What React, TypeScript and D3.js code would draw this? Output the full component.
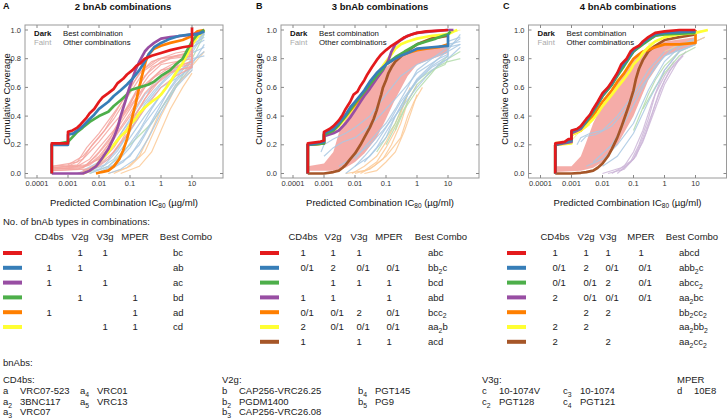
import React from "react";
import * as d3 from "d3";

type Pt = [number, number];

const FONT = "'Liberation Sans', Arial, Helvetica, sans-serif";
const DARK: Record<string, string> = {
  red: "#e41a1c", blue: "#377eb8", green: "#4daf4a", purple: "#984ea3",
  orange: "#ff7f00", yellow: "#ffff33", brown: "#a65628",
};
const FAINT: Record<string, string> = {
  red: "#f4a39e", blue: "#a9c8e3", green: "#b3dcab", purple: "#cdb6d8",
  orange: "#fcc995", yellow: "#f9f49c", brown: "#d8b8a0",
};

// ---------------- axis / text data ----------------
const xTicks = [0.0001, 0.001, 0.01, 0.1, 1, 10];
const xTickLabels = ["0.0001", "0.001", "0.01", "0.1", "1", "10"];
const yTicks = [0, 0.2, 0.4, 0.6, 0.8, 1.0];
const panelLetters = ["A", "B", "C"];
const panelTitles = ["2 bnAb combinations", "3 bnAb combinations", "4 bnAb combinations"];
const tableHeaders = ["CD4bs", "V2g", "V3g", "MPER", "Best Combo"];

// ---------------- table data ----------------
const rowColors2 = ["red", "blue", "purple", "green", "orange", "yellow"];
const counts2 = [["", "1", "1", ""], ["1", "1", "", ""], ["1", "", "1", ""], ["", "1", "", "1"], ["1", "", "", "1"], ["", "", "1", "1"]];
const best2 = ["bc", "ab", "ac", "bd", "ad", "cd"];
const rowColors3 = ["red", "blue", "green", "purple", "orange", "yellow", "brown"];
const counts3 = [["1", "1", "1", ""], ["0/1", "2", "0/1", "0/1"], ["", "1", "1", "1"], ["1", "1", "", "1"], ["0/1", "0/1", "2", "0/1"], ["2", "0/1", "0/1", "0/1"], ["1", "", "1", "1"]];
const best3 = ["abc", "bb2c", "bcd", "abd", "bcc2", "aa2b", "acd"];
const rowColors4 = ["red", "blue", "green", "purple", "orange", "yellow", "brown"];
const counts4 = [["1", "1", "1", "1"], ["0/1", "2", "0/1", "0/1"], ["0/1", "0/1", "2", "0/1"], ["2", "0/1", "0/1", "0/1"], ["", "2", "2", ""], ["2", "2", "", ""], ["2", "", "2", ""]];
const best4 = ["abcd", "abb2c", "abcc2", "aa2bc", "bb2cc2", "aa2bb2", "aa2cc2"];

// ---------------- bnAb list ----------------
const cd4bsAbs = [["a", "VRC07-523"], ["a2", "3BNC117"], ["a3", "VRC07"], ["a4", "VRC01"], ["a5", "VRC13"]];
const v2gAbs = [["b", "CAP256-VRC26.25"], ["b2", "PGDM1400"], ["b3", "CAP256-VRC26.08"], ["b4", "PGT145"], ["b5", "PG9"]];
const v3gAbs = [["c", "10-1074V"], ["c2", "PGT128"], ["c3", "10-1074"], ["c4", "PGT121"]];
const mperAbs = [["d", "10E8"]];

// ---------------- Panel A dark curves ----------------
const A_red: Pt[] = [[0.0003,0],[0.0003,0.21],[0.001,0.21],[0.001,0.29],[0.0014,0.3],[0.002,0.32],[0.0025,0.34],[0.003,0.36],[0.004,0.39],[0.005,0.42],[0.007,0.45],[0.01,0.5],[0.013,0.53],[0.02,0.56],[0.03,0.59],[0.04,0.63],[0.06,0.66],[0.08,0.69],[0.12,0.72],[0.16,0.75],[0.22,0.77],[0.3,0.8],[0.5,0.82],[1,0.84],[2,0.86],[5,0.88],[10,0.89],[10,1.02]];
const A_blue: Pt[] = [[0.0003,0],[0.0003,0.2],[0.001,0.2],[0.001,0.27],[0.0015,0.28],[0.002,0.3],[0.003,0.33],[0.005,0.38],[0.007,0.41],[0.01,0.45],[0.02,0.5],[0.03,0.54],[0.05,0.58],[0.08,0.62],[0.12,0.66],[0.2,0.72],[0.3,0.78],[0.4,0.83],[0.6,0.88],[1,0.91],[2,0.94],[4,0.96],[10,0.97],[15,0.97],[25,0.99]];
const A_purple: Pt[] = [[0.0003,0],[0.003,0],[0.005,0.02],[0.008,0.05],[0.012,0.1],[0.02,0.17],[0.03,0.25],[0.04,0.32],[0.05,0.4],[0.07,0.5],[0.09,0.58],[0.12,0.66],[0.15,0.72],[0.2,0.78],[0.3,0.85],[0.4,0.88],[0.6,0.91],[1,0.94],[2,0.95],[5,0.96],[10,0.97],[20,0.98]];
const A_green: Pt[] = [[0.0003,0],[0.0003,0.2],[0.001,0.22],[0.002,0.29],[0.003,0.32],[0.005,0.36],[0.01,0.4],[0.02,0.43],[0.03,0.47],[0.05,0.51],[0.08,0.55],[0.1,0.58],[0.2,0.6],[0.4,0.62],[0.6,0.64],[1,0.68],[2,0.72],[3,0.76],[5,0.8],[7,0.86],[10,0.92],[15,0.97],[25,1.0]];
const A_orange: Pt[] = [[0.008,0],[0.012,0.01],[0.02,0.02],[0.03,0.05],[0.045,0.1],[0.06,0.16],[0.08,0.24],[0.1,0.32],[0.12,0.4],[0.15,0.48],[0.18,0.56],[0.22,0.64],[0.27,0.72],[0.32,0.78],[0.4,0.83],[0.6,0.87],[1,0.89],[2,0.91],[5,0.93],[8,0.95],[10,0.96],[15,0.99],[25,1.0]];
const A_yellow: Pt[] = [[0.003,0],[0.005,0.02],[0.008,0.05],[0.01,0.08],[0.02,0.15],[0.03,0.2],[0.05,0.26],[0.08,0.3],[0.1,0.34],[0.15,0.38],[0.2,0.42],[0.3,0.46],[0.5,0.5],[0.8,0.53],[1,0.55],[1.5,0.6],[2,0.64],[3,0.7],[5,0.77],[7,0.83],[10,0.9],[15,0.95],[25,1.0]];

// Panel A faint curves
const A_fRed: Pt[][] = [
  [[0.0003,0.04],[0.002,0.05],[0.005,0.1],[0.01,0.18],[0.03,0.3],[0.1,0.5],[0.3,0.68],[1,0.78],[3,0.82],[10,0.85],[10,0.95]],
  [[0.0003,0.03],[0.003,0.04],[0.006,0.08],[0.01,0.12],[0.03,0.25],[0.1,0.42],[0.3,0.6],[1,0.72],[5,0.8],[10,0.82],[10,0.9]],
  [[0.0003,0.02],[0.004,0.03],[0.01,0.07],[0.03,0.18],[0.1,0.35],[0.3,0.52],[1,0.66],[3,0.74],[10,0.78],[10,0.86]],
  [[0.0003,0.05],[0.001,0.06],[0.003,0.12],[0.01,0.25],[0.03,0.38],[0.1,0.56],[0.3,0.72],[1,0.8],[10,0.83]],
  [[0.002,0.0],[0.005,0.03],[0.01,0.06],[0.03,0.15],[0.1,0.3],[0.3,0.45],[1,0.6],[3,0.68],[10,0.74],[10,0.82]],
  [[0.0003,0.04],[0.002,0.06],[0.005,0.15],[0.01,0.22],[0.03,0.35],[0.1,0.48],[0.2,0.62],[0.5,0.74],[2,0.8],[10,0.82]],
  [[0.0003,0.03],[0.003,0.05],[0.01,0.1],[0.02,0.2],[0.05,0.35],[0.1,0.45],[0.3,0.62],[1,0.72],[10,0.76],[10,0.84]],
  [[0.003,0.02],[0.01,0.05],[0.02,0.1],[0.05,0.22],[0.2,0.45],[0.5,0.6],[2,0.7],[10,0.75]],
  [[0.0003,0.05],[0.002,0.08],[0.004,0.18],[0.01,0.28],[0.03,0.42],[0.08,0.55],[0.2,0.7],[0.5,0.78],[3,0.84],[10,0.86]],
  [[0.0003,0.03],[0.003,0.04],[0.008,0.12],[0.02,0.22],[0.05,0.38],[0.15,0.55],[0.4,0.68],[1,0.76],[10,0.8],[10,0.88]],
  [[0.0003,0.02],[0.002,0.03],[0.005,0.06],[0.015,0.14],[0.04,0.28],[0.1,0.4],[0.3,0.56],[1,0.68],[3,0.72],[10,0.74]],
  [[0.001,0.05],[0.003,0.1],[0.006,0.2],[0.015,0.3],[0.04,0.45],[0.1,0.6],[0.25,0.72],[0.8,0.8],[10,0.84]],
  [[0.0003,0.04],[0.004,0.06],[0.01,0.15],[0.025,0.26],[0.06,0.4],[0.15,0.52],[0.5,0.66],[2,0.74],[10,0.78],[10,0.85]],
];
const A_fBlue: Pt[][] = [
  [[0.003,0.0],[0.01,0.03],[0.03,0.1],[0.1,0.25],[0.3,0.4],[1,0.55],[3,0.68],[10,0.8],[10,0.9],[25,0.95]],
  [[0.005,0.0],[0.02,0.05],[0.05,0.12],[0.2,0.3],[0.5,0.45],[1,0.55],[3,0.7],[10,0.78],[10,0.88],[25,0.93]],
  [[0.002,0.0],[0.008,0.05],[0.02,0.15],[0.06,0.3],[0.2,0.45],[0.6,0.58],[2,0.7],[10,0.82],[10,0.92],[25,0.97]],
  [[0.01,0.0],[0.03,0.05],[0.1,0.12],[0.3,0.28],[1,0.48],[2,0.6],[5,0.72],[10,0.78],[25,0.85]],
  [[0.005,0.02],[0.02,0.1],[0.05,0.2],[0.1,0.3],[0.3,0.48],[1,0.62],[3,0.72],[10,0.84],[25,0.98]],
  [[0.02,0.0],[0.05,0.03],[0.15,0.1],[0.4,0.25],[1,0.42],[3,0.6],[10,0.72],[10,0.8],[25,0.82]],
  [[0.003,0.02],[0.01,0.08],[0.03,0.2],[0.1,0.38],[0.3,0.55],[1,0.66],[3,0.76],[10,0.86],[25,0.99]],
  [[0.008,0.0],[0.03,0.06],[0.1,0.18],[0.3,0.35],[1,0.5],[3,0.64],[10,0.76],[25,0.9]],
  [[0.02,0.02],[0.06,0.08],[0.2,0.2],[0.5,0.35],[1,0.45],[3,0.62],[10,0.74],[10,0.84],[25,0.88]],
  [[0.004,0.01],[0.015,0.06],[0.04,0.16],[0.12,0.32],[0.4,0.5],[1,0.6],[3,0.66],[10,0.74],[10,0.94],[25,1.0]],
];
const A_fOrange: Pt[][] = [
  [[0.03,0.0],[0.1,0.05],[0.3,0.15],[1,0.4],[3,0.6],[10,0.75],[25,0.85]],
  [[0.05,0.0],[0.2,0.05],[0.5,0.15],[1,0.3],[2,0.45],[5,0.6],[10,0.7]],
  [[0.02,0.0],[0.08,0.04],[0.2,0.12],[0.5,0.3],[1,0.45],[3,0.62],[10,0.72]],
];
const A_fGreen: Pt[][] = [
  [[0.005,0.0],[0.02,0.05],[0.1,0.2],[0.5,0.35],[1,0.45],[3,0.6],[10,0.8],[25,0.97]],
];

// ---------------- Panel B dark curves ----------------
const B_red: Pt[] = [[0.0003,0],[0.0003,0.21],[0.0007,0.22],[0.001,0.23],[0.001,0.29],[0.0015,0.31],[0.002,0.33],[0.003,0.37],[0.004,0.41],[0.005,0.45],[0.007,0.5],[0.009,0.55],[0.012,0.57],[0.015,0.61],[0.02,0.65],[0.025,0.69],[0.035,0.74],[0.05,0.79],[0.07,0.83],[0.1,0.86],[0.15,0.89],[0.25,0.92],[0.4,0.95],[0.7,0.97],[1,0.98],[2,0.99],[10,1.0]];
const B_blue: Pt[] = [[0.0003,0],[0.0003,0.2],[0.001,0.22],[0.001,0.28],[0.002,0.31],[0.003,0.35],[0.005,0.41],[0.007,0.46],[0.01,0.5],[0.02,0.58],[0.03,0.64],[0.05,0.7],[0.07,0.73],[0.1,0.76],[0.2,0.8],[0.3,0.82],[0.5,0.84],[1,0.87],[3,0.88],[10,0.89],[10,0.97]];
const B_green: Pt[] = [[0.0003,0],[0.0003,0.2],[0.001,0.21],[0.001,0.27],[0.002,0.3],[0.003,0.34],[0.005,0.4],[0.01,0.49],[0.02,0.57],[0.03,0.62],[0.05,0.68],[0.08,0.73],[0.1,0.76],[0.2,0.81],[0.4,0.85],[0.7,0.88],[1,0.9],[2,0.92],[4,0.94],[7,0.96],[10,0.97],[12,0.99]];
const B_purple: Pt[] = [[0.0003,0],[0.0003,0.2],[0.001,0.21],[0.001,0.26],[0.002,0.28],[0.003,0.3],[0.005,0.35],[0.007,0.39],[0.01,0.44],[0.015,0.5],[0.02,0.54],[0.03,0.59],[0.05,0.66],[0.08,0.72],[0.12,0.79],[0.15,0.85],[0.2,0.9],[0.3,0.93],[0.5,0.96],[1,0.98],[3,0.99],[10,1.0],[15,1.0]];
const B_orange: Pt[] = [[0.0003,0],[0.0003,0.2],[0.001,0.21],[0.001,0.27],[0.002,0.3],[0.003,0.34],[0.005,0.4],[0.01,0.48],[0.02,0.56],[0.03,0.61],[0.05,0.67],[0.08,0.73],[0.1,0.76],[0.2,0.8],[0.3,0.82],[0.5,0.84],[1,0.86],[2,0.87],[5,0.88],[10,0.9]];
const B_yellow: Pt[] = [[0.0003,0],[0.0003,0.2],[0.001,0.21],[0.001,0.27],[0.002,0.3],[0.003,0.33],[0.005,0.39],[0.01,0.47],[0.02,0.56],[0.03,0.62],[0.05,0.69],[0.08,0.75],[0.1,0.78],[0.15,0.83],[0.2,0.87],[0.3,0.9],[0.5,0.92],[1,0.94],[3,0.96],[10,0.97],[15,0.99],[20,1.0]];
const B_brown: Pt[] = [[0.0003,0],[0.001,0],[0.002,0.01],[0.003,0.02],[0.004,0.04],[0.005,0.06],[0.007,0.1],[0.01,0.14],[0.015,0.2],[0.02,0.25],[0.03,0.32],[0.04,0.38],[0.05,0.44],[0.06,0.5],[0.07,0.55],[0.08,0.6],[0.1,0.65],[0.12,0.7],[0.15,0.74],[0.2,0.78],[0.4,0.84],[1,0.9],[3,0.94],[10,0.96]];

// Panel B faint
const B_bandRedUpper: Pt[] = [[0.0003,0.05],[0.001,0.07],[0.002,0.15],[0.003,0.28],[0.005,0.38],[0.01,0.48],[0.02,0.56],[0.05,0.66],[0.1,0.74],[0.3,0.82],[1,0.86],[10,0.9]];
const B_bandRedLower: Pt[] = [[0.0003,0.02],[0.002,0.02],[0.005,0.04],[0.01,0.08],[0.02,0.14],[0.05,0.25],[0.1,0.38],[0.2,0.52],[0.5,0.68],[1,0.76],[10,0.84]];
const B_fBlue: Pt[][] = [
  [[0.0008,0.15],[0.001,0.2],[0.002,0.24],[0.005,0.28],[0.01,0.32],[0.03,0.4],[0.1,0.55],[0.3,0.68],[1,0.76],[10,0.85],[25,0.9]],
  [[0.001,0.12],[0.002,0.18],[0.004,0.22],[0.01,0.25],[0.02,0.3],[0.05,0.38],[0.2,0.52],[0.5,0.62],[1,0.7],[5,0.8],[10,0.83],[10,0.9],[25,0.92]],
  [[0.005,0.0],[0.01,0.05],[0.02,0.12],[0.05,0.22],[0.1,0.32],[0.3,0.5],[1,0.65],[3,0.75],[10,0.82],[10,0.92],[25,0.95]],
  [[0.01,0.05],[0.03,0.12],[0.1,0.25],[0.2,0.4],[0.5,0.55],[1,0.66],[3,0.76],[10,0.86],[25,0.97]],
  [[0.01,0.1],[0.02,0.18],[0.05,0.28],[0.1,0.35],[0.2,0.45],[0.5,0.6],[1,0.72],[3,0.8],[10,0.88],[25,0.94]],
  [[0.003,0.05],[0.01,0.12],[0.03,0.2],[0.08,0.3],[0.3,0.45],[1,0.6],[3,0.72],[10,0.8],[10,0.88],[25,0.9]],
  [[0.02,0.08],[0.05,0.18],[0.15,0.35],[0.4,0.52],[1,0.64],[3,0.74],[10,0.8],[25,0.88]],
];
const B_fGreen: Pt[][] = [
  [[0.1,0.2],[0.3,0.4],[0.5,0.5],[1,0.62],[2,0.68],[5,0.75],[10,0.78],[25,0.8]],
  [[0.05,0.15],[0.2,0.35],[0.5,0.55],[1,0.65],[3,0.72],[8,0.76],[10,0.8],[25,0.85]],
  [[0.2,0.3],[0.4,0.45],[1,0.58],[3,0.7],[5,0.76],[10,0.82]],
];
const B_fOrange: Pt[][] = [
  [[0.005,0.0],[0.02,0.02],[0.05,0.08],[0.1,0.18],[0.2,0.3],[0.3,0.42],[0.5,0.55]],
  [[0.01,0.0],[0.03,0.03],[0.08,0.1],[0.15,0.2],[0.3,0.35],[0.5,0.5],[1,0.62]],
  [[0.02,0.0],[0.05,0.02],[0.1,0.08],[0.2,0.15],[0.4,0.3],[0.7,0.45],[1,0.55]],
  [[0.008,0.0],[0.02,0.05],[0.05,0.12],[0.1,0.22],[0.2,0.35],[0.4,0.5],[0.6,0.6]],
  [[0.015,0.0],[0.04,0.05],[0.1,0.12],[0.3,0.25],[0.5,0.4],[0.8,0.5],[1.5,0.6]],
];
const B_fYellow: Pt[][] = [
  [[1,0.9],[3,0.95],[10,0.98],[25,1.0]],
];

// ---------------- Panel C dark curves ----------------
const C_red: Pt[] = [[0.0003,0],[0.0003,0.21],[0.0006,0.22],[0.0008,0.24],[0.001,0.24],[0.001,0.3],[0.0015,0.31],[0.002,0.33],[0.003,0.38],[0.004,0.41],[0.005,0.45],[0.007,0.5],[0.01,0.56],[0.015,0.6],[0.02,0.64],[0.03,0.7],[0.04,0.76],[0.06,0.8],[0.08,0.85],[0.1,0.87],[0.15,0.89],[0.2,0.92],[0.3,0.95],[0.5,0.98],[1,0.99],[3,1.0],[10,1.0]];
const C_blue: Pt[] = [[0.0003,0],[0.0003,0.2],[0.001,0.23],[0.001,0.29],[0.002,0.32],[0.003,0.37],[0.005,0.44],[0.007,0.49],[0.01,0.55],[0.02,0.63],[0.03,0.69],[0.04,0.74],[0.06,0.79],[0.1,0.86],[0.2,0.91],[0.3,0.94],[0.5,0.97],[1,0.98],[10,0.99]];
const C_green: Pt[] = [[0.0003,0],[0.0003,0.2],[0.001,0.23],[0.001,0.29],[0.002,0.32],[0.003,0.36],[0.005,0.43],[0.01,0.54],[0.02,0.62],[0.03,0.68],[0.05,0.75],[0.1,0.85],[0.2,0.9],[0.5,0.96],[1,0.97],[10,0.98]];
const C_purple: Pt[] = [[0.0003,0],[0.0003,0.2],[0.001,0.22],[0.001,0.28],[0.002,0.31],[0.003,0.36],[0.005,0.43],[0.01,0.54],[0.02,0.62],[0.03,0.69],[0.05,0.76],[0.1,0.85],[0.2,0.91],[0.5,0.96],[1,0.98],[10,0.99]];
const C_orange: Pt[] = [[0.0003,0],[0.0003,0.2],[0.001,0.22],[0.001,0.27],[0.002,0.3],[0.003,0.34],[0.005,0.4],[0.01,0.5],[0.02,0.58],[0.03,0.64],[0.05,0.7],[0.07,0.75],[0.1,0.8],[0.15,0.83],[0.2,0.85],[0.3,0.86],[0.5,0.88],[1,0.9],[3,0.9],[10,0.91],[10,1.0]];
const C_yellow: Pt[] = [[0.0003,0],[0.0003,0.2],[0.001,0.21],[0.001,0.27],[0.002,0.3],[0.003,0.33],[0.005,0.38],[0.007,0.42],[0.01,0.47],[0.02,0.55],[0.03,0.6],[0.05,0.66],[0.08,0.72],[0.1,0.76],[0.15,0.8],[0.2,0.84],[0.3,0.88],[0.5,0.92],[1,0.95],[3,0.97],[10,0.98],[25,1.0]];
const C_brown: Pt[] = [[0.0003,0],[0.001,0],[0.002,0.005],[0.003,0.01],[0.005,0.02],[0.007,0.04],[0.01,0.07],[0.015,0.12],[0.02,0.17],[0.03,0.25],[0.04,0.32],[0.05,0.38],[0.07,0.47],[0.1,0.58],[0.12,0.66],[0.15,0.73],[0.2,0.79],[0.3,0.85],[0.5,0.89],[1,0.93],[3,0.95],[10,0.97]];

// Panel C faint
const C_bandRedUpper: Pt[] = [[0.0003,0.05],[0.001,0.05],[0.002,0.12],[0.003,0.22],[0.005,0.35],[0.01,0.48],[0.02,0.58],[0.05,0.7],[0.1,0.8],[0.3,0.88],[1,0.92],[10,0.95]];
const C_bandRedLower: Pt[] = [[0.0003,0.01],[0.002,0.02],[0.005,0.04],[0.01,0.08],[0.03,0.2],[0.1,0.4],[0.3,0.65],[1,0.82],[10,0.9]];
const C_fBlue: Pt[][] = [
  [[0.0015,0.2],[0.002,0.25],[0.004,0.28],[0.01,0.3],[0.03,0.4],[0.1,0.55],[0.3,0.72],[1,0.85],[10,0.93]],
  [[0.003,0.05],[0.01,0.1],[0.03,0.2],[0.1,0.35],[0.3,0.58],[1,0.78],[3,0.88],[10,0.92],[20,0.95]],
  [[0.01,0.05],[0.03,0.12],[0.1,0.28],[0.3,0.5],[1,0.72],[3,0.85],[10,0.9]],
  [[0.005,0.08],[0.02,0.2],[0.05,0.35],[0.2,0.6],[0.5,0.75],[2,0.88],[10,0.94]],
  [[0.002,0.22],[0.003,0.26],[0.006,0.27],[0.02,0.33],[0.06,0.45],[0.2,0.62],[1,0.82],[10,0.9]],
];
const C_fPurple: Pt[][] = [
  [[0.02,0.0],[0.05,0.05],[0.1,0.15],[0.2,0.3],[0.4,0.5],[1,0.72],[3,0.85]],
  [[0.03,0.0],[0.08,0.08],[0.15,0.2],[0.3,0.38],[0.5,0.55],[1,0.68],[2,0.78]],
  [[0.01,0.0],[0.04,0.04],[0.1,0.1],[0.2,0.22],[0.5,0.45],[1,0.62],[3,0.8]],
  [[0.015,0.0],[0.05,0.03],[0.12,0.12],[0.25,0.28],[0.5,0.48],[1,0.65],[2,0.76],[5,0.85]],
  [[0.04,0.02],[0.1,0.1],[0.2,0.25],[0.4,0.42],[0.7,0.58],[1.5,0.72],[4,0.82]],
];
const C_fGreen: Pt[][] = [
  [[0.1,0.3],[0.3,0.55],[0.5,0.65],[1,0.75],[3,0.85],[10,0.9]],
  [[0.2,0.45],[0.5,0.6],[1,0.7],[3,0.82],[10,0.88]],
];
const C_fOrange: Pt[][] = [
  [[1,0.85],[3,0.9],[10,0.92],[20,0.95]],
];
const C_fYellow: Pt[][] = [
  [[0.3,0.9],[1,0.95],[5,0.98],[25,1.0]],
  [[0.0003,0.22],[0.001,0.23],[0.002,0.3],[0.004,0.34]],
];

// ---------------- assembly ----------------
type Band = { color: string; upper: Pt[]; lower: Pt[] };
type Faint = { color: string; curves: Pt[][] };
type Dark = { color: string; pts: Pt[] };

const panels: { dark: Dark[]; faint: Faint[]; bands: Band[]; rowColors: string[]; counts: string[][]; best: string[] }[] = [
  {
    dark: [
      { color: "yellow", pts: A_yellow }, { color: "orange", pts: A_orange }, { color: "green", pts: A_green },
      { color: "purple", pts: A_purple }, { color: "blue", pts: A_blue }, { color: "red", pts: A_red },
    ],
    faint: [{ color: "orange", curves: A_fOrange }, { color: "green", curves: A_fGreen }, { color: "blue", curves: A_fBlue }, { color: "red", curves: A_fRed }],
    bands: [],
    rowColors: rowColors2, counts: counts2, best: best2,
  },
  {
    dark: [
      { color: "brown", pts: B_brown }, { color: "yellow", pts: B_yellow }, { color: "orange", pts: B_orange },
      { color: "purple", pts: B_purple }, { color: "green", pts: B_green }, { color: "blue", pts: B_blue }, { color: "red", pts: B_red },
    ],
    faint: [{ color: "orange", curves: B_fOrange }, { color: "green", curves: B_fGreen }, { color: "blue", curves: B_fBlue }, { color: "yellow", curves: B_fYellow }],
    bands: [{ color: "red", upper: B_bandRedUpper, lower: B_bandRedLower }],
    rowColors: rowColors3, counts: counts3, best: best3,
  },
  {
    dark: [
      { color: "brown", pts: C_brown }, { color: "orange", pts: C_orange }, { color: "yellow", pts: C_yellow },
      { color: "purple", pts: C_purple }, { color: "green", pts: C_green }, { color: "blue", pts: C_blue }, { color: "red", pts: C_red },
    ],
    faint: [{ color: "purple", curves: C_fPurple }, { color: "green", curves: C_fGreen }, { color: "blue", curves: C_fBlue }, { color: "orange", curves: C_fOrange }, { color: "yellow", curves: C_fYellow }],
    bands: [{ color: "red", upper: C_bandRedUpper, lower: C_bandRedLower }],
    rowColors: rowColors4, counts: counts4, best: best4,
  },
];

// ---------------- layout ----------------
const frameLeft = [25, 281, 528.5];
const frameW = 198;
const frameTop = 25;
const frameBottom = 178;
const titleCenter = [123, 380, 628];
const letterX = [3, 256, 503];
const yLabelX = [9.5, 261.5, 508];
const headerCenters = [[49, 80, 105, 135, 186], [303, 333, 359, 389, 441], [555, 586, 608, 641, 692]];
const swatchX = [3, 260, 507];
const rowY0 = 253;
const rowStep = 14.8;

function SubText(props: { x: number; y: number; text: string; size: number; fill?: string; anchor?: string }) {
  const { x, y, text, size, fill = "#222", anchor = "start" } = props;
  const parts = text.match(/\d+|\D+/g) || [];
  const shift = size * 0.3;
  let cur = 0;
  return (
    <text x={x} y={y} fontSize={size} fill={fill} textAnchor={anchor as any}>
      {parts.map((p, i) => {
        const isSub = /^\d+$/.test(p);
        const target = isSub ? shift : 0;
        const dy = target - cur;
        cur = target;
        return (
          <tspan key={i} dy={dy} fontSize={isSub ? size * 0.72 : size}>{p}</tspan>
        );
      })}
    </text>
  );
}

function Panel({ idx }: { idx: number }) {
  const p = panels[idx];
  const L = frameLeft[idx];
  const xs = d3.scaleLog().domain([0.0001, 10]).range([L + 12, L + 167]);
  const ys = d3.scaleLinear().domain([0, 1]).range([173.5, 30]);
  const line = d3.line<Pt>().x((d) => xs(d[0])).y((d) => ys(d[1]));
  const cx = L + frameW / 2;
  return (
    <g>
      <defs>
        <clipPath id={`clip${idx}`}>
          <rect x={L} y={frameTop} width={frameW} height={frameBottom - frameTop} />
        </clipPath>
      </defs>
      <text x={letterX[idx]} y={9} fontSize={9} fontWeight="bold" fill="#111">{panelLetters[idx]}</text>
      <text x={titleCenter[idx]} y={10} fontSize={9.5} fontWeight="bold" textAnchor="middle" fill="#111">{panelTitles[idx]}</text>
      <rect x={L} y={frameTop} width={frameW} height={frameBottom - frameTop} fill="white" />
      <g clipPath={`url(#clip${idx})`}>
        {p.bands.map((b, i) => (
          <path key={"b" + i} d={(line([...b.upper, ...[...b.lower].reverse()]) || "") + "Z"} fill={FAINT[b.color]} opacity={0.9} />
        ))}
        {p.faint.map((f, i) =>
          f.curves.map((c, j) => (
            <path key={`f${i}-${j}`} d={line(c) || ""} fill="none" stroke={FAINT[f.color]} strokeWidth={1.2} opacity={0.85} />
          ))
        )}
        {p.dark.map((d, i) => (
          <path key={"d" + i} d={line(d.pts) || ""} fill="none" stroke={DARK[d.color]} strokeWidth={2.7} strokeLinejoin="round" />
        ))}
      </g>
      <rect x={L} y={frameTop} width={frameW} height={frameBottom - frameTop} fill="none" stroke="#9a9a9a" strokeWidth={1} />
      {xTicks.map((t, i) => (
        <g key={"xt" + i}>
          <line x1={xs(t)} x2={xs(t)} y1={frameBottom} y2={frameBottom - 3} stroke="#888" />
          <line x1={xs(t)} x2={xs(t)} y1={frameTop} y2={frameTop + 3} stroke="#888" />
          <text x={xs(t)} y={186} fontSize={7.5} textAnchor="middle" fill="#333">{xTickLabels[i]}</text>
        </g>
      ))}
      {yTicks.map((t, i) => (
        <g key={"yt" + i}>
          <line x1={L} x2={L + 3} y1={ys(t)} y2={ys(t)} stroke="#888" />
          <line x1={L + frameW} x2={L + frameW - 3} y1={ys(t)} y2={ys(t)} stroke="#888" />
          <text x={L - 4} y={ys(t) + 2.6} fontSize={7.5} textAnchor="end" fill="#333">{t.toFixed(1)}</text>
        </g>
      ))}
      <text x={L + 9} y={35.5} fontSize={7.8} fontWeight="bold" fill="#111">Dark</text>
      <text x={L + 38} y={35.5} fontSize={7.8} fill="#111">Best combination</text>
      <text x={L + 9} y={45} fontSize={7.8} fill="#aaa">Faint</text>
      <text x={L + 38} y={45} fontSize={7.8} fill="#111">Other combinations</text>
      <text transform={`translate(${yLabelX[idx]},${99}) rotate(-90)`} fontSize={9.5} textAnchor="middle" fill="#111">Cumulative Coverage</text>
      <text x={cx} y={205.5} fontSize={9.5} textAnchor="middle" fill="#111">
        <tspan>Predicted Combination IC</tspan>
        <tspan fontSize={6.5} dy={2.5}>80</tspan>
        <tspan dy={-2.5}> (µg/ml)</tspan>
      </text>
      {tableHeaders.map((h, i) => (
        <text key={"h" + i} x={headerCenters[idx][i]} y={240} fontSize={9.5} textAnchor="middle" fill="#222">{h}</text>
      ))}
      {p.rowColors.map((c, r) => {
        const y = rowY0 + r * rowStep;
        return (
          <g key={"r" + r}>
            <rect x={swatchX[idx]} y={y - 2} width={19} height={4} fill={DARK[c]} />
            {p.counts[r].map((v, k) =>
              v ? (
                <text key={k} x={headerCenters[idx][k] - 2.5} y={y + 3.4} fontSize={9.5} fill="#222">{v}</text>
              ) : null
            )}
            <SubText x={headerCenters[idx][4] - 13} y={y + 3.4} text={p.best[r]} size={9.5} />
          </g>
        );
      })}
    </g>
  );
}

function AbGroup(props: { title: string; x: number; col2: number; perCol: number; items: string[][] }) {
  const { title, x, col2, perCol, items } = props;
  const ys = [391, 401.5, 412];
  return (
    <g>
      <text x={x} y={383.4} fontSize={9.5} fill="#222">{title}</text>
      {items.map((it, i) => {
        const col = Math.floor(i / perCol);
        const row = i % perCol;
        const xx = col === 0 ? x : col2;
        const yy = ys[row] + 3.4;
        return (
          <g key={i}>
            <SubText x={xx} y={yy} text={it[0]} size={9.5} />
            <text x={xx + 17} y={yy} fontSize={9.5} fill="#222">{it[1]}</text>
          </g>
        );
      })}
    </g>
  );
}

export default function App() {
  return (
    <svg width={727} height={418} style={{ position: "absolute", left: 0, top: 0, background: "white" }} fontFamily={FONT}>
      <rect x={0} y={0} width={727} height={418} fill="white" />
      {[0, 1, 2].map((i) => <Panel key={i} idx={i} />)}
      <text x={3} y={225.4} fontSize={9.5} fill="#222">No. of bnAb types in combinations:</text>
      <text x={3} y={366.4} fontSize={9.5} fill="#222">bnAbs:</text>
      <AbGroup title="CD4bs:" x={3} col2={80} perCol={3} items={cd4bsAbs} />
      <AbGroup title="V2g:" x={222} col2={358} perCol={3} items={v2gAbs} />
      <AbGroup title="V3g:" x={482} col2={563} perCol={2} items={v3gAbs} />
      <AbGroup title="MPER" x={677} col2={677} perCol={1} items={mperAbs} />
    </svg>
  );
}
